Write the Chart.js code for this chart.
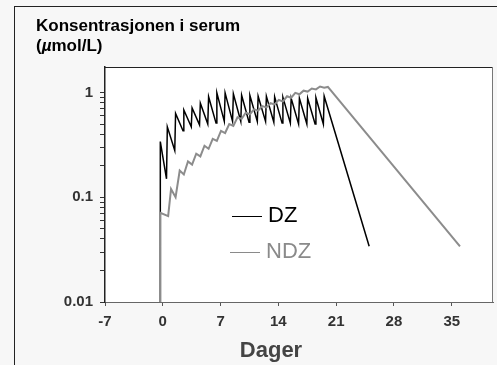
<!DOCTYPE html>
<html>
<head>
<meta charset="utf-8">
<script src="https://cdn.jsdelivr.net/npm/chart.js@4.4.0/dist/chart.umd.min.js"></script>
<style>
    html, body { margin: 0; padding: 0; background: #f7f7f7; }
    #wrap { position: relative; width: 497px; height: 365px; overflow: hidden; font-family: "Liberation Sans", Arial, sans-serif; }
    #frame { position: absolute; left: 14px; top: 6px; width: 600px; height: 600px; border-left: 1px solid #222; border-top: 1px solid #222; }
    #c { position: absolute; left: 0; top: 0; }
    .ytitle { position: absolute; left: 36px; top: 16px; font-weight: bold; font-size: 17px; line-height: 20px; color: #000; white-space: nowrap; }
    .xtitle { position: absolute; left: 271px; top: 350px; transform: translate(-50%, -50%); font-weight: bold; font-size: 22px; color: #444; }
    .leg { position: absolute; font-size: 22px; line-height: 22px; white-space: nowrap; transform: translateY(-50%); }
    .leg i { display: inline-block; width: 30px; height: 0; vertical-align: middle; margin-right: 6px; }
</style>
</head>
<body>
<div id="wrap">
    <div id="frame"></div>
    <canvas id="c" width="497" height="365"></canvas>
    <div class="ytitle">Konsentrasjonen i serum<br>(<em>&micro;</em>mol/L)</div>
    <div class="xtitle">Dager</div>
    <div class="leg" style="left:232px; top:215px; color:#000;"><i style="border-top:1px solid #000;"></i>DZ</div>
    <div class="leg" style="left:230px; top:251px; color:#8a8a8a;"><i style="border-top:1px solid #8a8a8a;"></i>NDZ</div>
</div>
<script>
// --- DATOS ---
const xTickValues = [-7, 0, 7, 14, 21, 28, 35];
const yTickLabels = [0.01, 0.1, 1];

// DZ: dose hver dag, sagtann
const dzDays = [-0.3, -0.3, 0.45, 0.55, 1.45, 1.55, 2.45, 2.55, 3.45, 3.55, 4.45, 4.55,
    5.45, 5.55, 6.45, 6.55, 7.45, 7.55, 8.45, 8.55, 9.45, 9.55, 10.45, 10.55, 11.45, 11.55,
    12.45, 12.55, 13.45, 13.55, 14.45, 14.55, 15.45, 15.55, 16.45, 16.55, 17.45, 17.55,
    18.45, 18.55, 19.45, 19.55, 25];
const dzValues = [0.01, 0.34, 0.15, 0.47, 0.28, 0.63, 0.43, 0.68, 0.47, 0.71, 0.49, 0.79,
    0.50, 0.91, 0.51, 0.99, 0.53, 0.99, 0.53, 0.97, 0.53, 0.94, 0.52, 0.94, 0.53, 0.92,
    0.53, 0.92, 0.52, 0.91, 0.51, 0.90, 0.51, 0.88, 0.50, 0.88, 0.50, 0.88,
    0.50, 0.89, 0.50, 0.92, 0.034];

// NDZ
const ndzDays = [-0.3, -0.3, 0.65, 1.0, 1.55, 2.05, 2.55, 3.05, 3.55, 4.05, 4.55, 5.05,
    5.55, 6.05, 6.55, 7.05, 7.55, 8.05, 8.55, 9.05, 9.55, 10.05, 10.55, 11.05, 11.55,
    12.05, 12.55, 13.05, 13.55, 14.05, 14.55, 15.05, 15.55, 16.05, 16.55, 17.05, 17.55,
    18.05, 18.55, 19.05, 19.55, 20.0, 36];
const ndzValues = [0.01, 0.071, 0.066, 0.12, 0.10, 0.18, 0.165, 0.22, 0.205, 0.26, 0.245, 0.31,
    0.29, 0.36, 0.345, 0.43, 0.41, 0.50, 0.48, 0.58, 0.56, 0.64, 0.62, 0.69, 0.67,
    0.74, 0.72, 0.79, 0.77, 0.85, 0.82, 0.92, 0.89, 0.99, 0.96, 1.04, 1.02,
    1.09, 1.07, 1.14, 1.11, 1.13, 0.034];

const toPts = (xs, ys) => xs.map((x, i) => ({ x: x, y: ys[i] }));

// minor ticks 1..9 per dekade
const yTicks = [];
[0.01, 0.1].forEach(d => {
    for (let s = 1; s <= 9; s++) yTicks.push(Number((s * d).toPrecision(2)));
});
yTicks.push(1);

const plotBox = {
    id: 'plotBox',
    beforeDraw(chart) {
        const a = chart.chartArea, ctx = chart.ctx;
        ctx.save();
        ctx.fillStyle = '#ffffff';
        ctx.fillRect(a.left, a.top, a.right - a.left, a.bottom - a.top);
        ctx.restore();
    },
    afterDraw(chart) {
        const a = chart.chartArea, ctx = chart.ctx;
        ctx.save();
        ctx.lineWidth = 1;
        ctx.strokeStyle = '#222';
        ctx.beginPath(); ctx.moveTo(a.left, a.top + 0.5); ctx.lineTo(a.right, a.top + 0.5); ctx.stroke();
        ctx.strokeStyle = '#777';
        ctx.beginPath(); ctx.moveTo(a.right - 0.5, a.top); ctx.lineTo(a.right - 0.5, a.bottom); ctx.stroke();
        ctx.restore();
    }
};

const tickFont = { family: '"Liberation Sans", Arial, sans-serif', size: 15, weight: 'bold' };

new Chart(document.getElementById('c'), {
    type: 'line',
    data: {
        datasets: [
            { label: 'DZ', data: toPts(dzDays, dzValues), borderColor: '#000', borderWidth: 1.5,
              pointRadius: 0, tension: 0, order: 1 },
            { label: 'NDZ', data: toPts(ndzDays, ndzValues), borderColor: '#8c8c8c', borderWidth: 2,
              pointRadius: 0, tension: 0, order: 0 }
        ]
    },
    options: {
        responsive: false,
        animation: false,
        layout: { padding: { top: 67, right: 4, left: 0, bottom: 0 } },
        plugins: { legend: { display: false }, tooltip: { enabled: false } },
        scales: {
            x: {
                type: 'linear', min: -7, max: 40,
                afterBuildTicks: s => { s.ticks = xTickValues.map(v => ({ value: v })); },
                afterFit: s => { s.height = 63; },
                grid: { drawOnChartArea: false, drawTicks: true, tickLength: 4, color: '#555' },
                border: { color: '#666', width: 1 },
                ticks: { font: tickFont, color: '#333', padding: 7, maxRotation: 0 }
            },
            y: {
                type: 'logarithmic', min: 0.01, max: 1.75,
                afterBuildTicks: s => { s.ticks = yTicks.map(v => ({ value: v })); },
                afterFit: s => { s.width = 105; },
                grid: { drawOnChartArea: false, drawTicks: true, tickLength: 5, color: '#333' },
                border: { color: '#222', width: 1.5 },
                ticks: {
                    font: tickFont, color: '#333', padding: 7, autoSkip: false,
                    callback: v => yTickLabels.includes(v) ? String(v) : ''
                }
            }
        }
    },
    plugins: [plotBox]
});
</script>
</body>
</html>
